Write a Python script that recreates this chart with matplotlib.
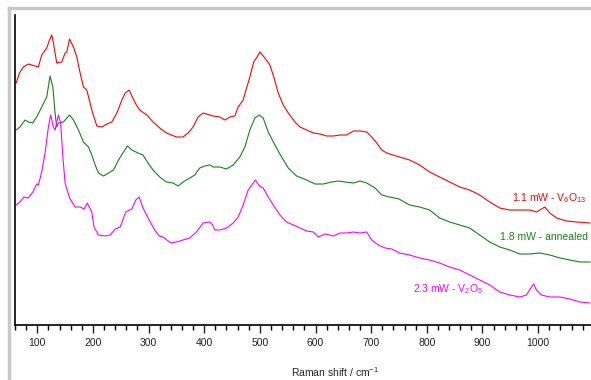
import matplotlib
matplotlib.use('Agg')
import matplotlib.pyplot as plt
from matplotlib.lines import Line2D
from matplotlib.ticker import MultipleLocator

plt.rcParams['font.family'] = ['Liberation Sans', 'DejaVu Sans']
plt.rcParams['mathtext.fontset'] = 'custom'
plt.rcParams['mathtext.rm'] = 'Liberation Sans'
plt.rcParams['mathtext.it'] = 'Liberation Sans:italic'

# Raman shift (cm-1) / intensity (arb. units, offset traces)
red_x = [62, 68, 75, 84, 90, 102, 108, 117, 122, 126, 129, 135, 144, 150, 153, 158,
         165, 171, 177, 183, 189, 198, 207, 216, 225, 234, 243, 252, 258, 265, 276,
         284, 297, 308, 320, 332, 341, 350, 362, 371, 380, 389, 398, 404, 416, 428,
         437, 446, 455, 461, 470, 475, 482, 489, 495, 500, 509, 518, 525, 533, 542,
         551, 563, 572, 584, 596, 608, 620, 632, 644, 656, 668, 680, 692, 701, 710,
         719, 728, 739, 751, 769, 787, 805, 823, 841, 859, 877, 895, 913, 931, 949,
         967, 985, 997, 1012, 1021, 1033, 1051, 1069, 1093]
red_y = [242, 252, 258, 261, 260, 258, 270, 277, 285, 290, 282, 262, 263, 272, 273, 286,
         278, 268, 252, 238, 235, 215, 199, 198, 201, 203, 212, 225, 232, 235, 222,
         215, 210, 203, 197, 192, 190, 188, 188, 192, 198, 208, 212, 211, 209, 208,
         205, 208, 209, 218, 225, 235, 248, 263, 268, 273, 267, 260, 248, 232, 220,
         212, 203, 198, 195, 192, 191, 189, 189, 190, 190, 194, 194, 193, 188, 182,
         175, 172, 170, 168, 165, 160, 153, 148, 143, 138, 135, 130, 123, 117, 115,
         115, 115, 113, 118, 112, 107, 104, 103, 102]

green_x = [62, 69, 78, 84, 92, 99, 108, 117, 123, 128, 132, 135, 138, 147, 158, 165,
           174, 183, 192, 198, 204, 210, 219, 228, 237, 246, 255, 262, 270, 281, 290,
           299, 308, 320, 332, 344, 353, 362, 374, 383, 392, 401, 410, 416, 428, 440,
           452, 464, 473, 482, 491, 499, 506, 515, 527, 539, 551, 566, 584, 599, 614,
           629, 641, 653, 668, 680, 692, 707, 719, 733, 750, 769, 787, 805, 823, 841,
           859, 877, 895, 913, 931, 949, 967, 985, 1003, 1021, 1039, 1057, 1075, 1093]
green_y = [195, 198, 205, 203, 202, 208, 218, 228, 249, 238, 212, 198, 202, 203, 210, 205,
           195, 183, 178, 170, 160, 152, 149, 152, 155, 165, 173, 179, 175, 172, 170,
           162, 155, 148, 143, 142, 139, 143, 147, 150, 157, 159, 160, 158, 158, 156,
           160, 168, 178, 195, 207, 210, 207, 193, 180, 168, 157, 149, 145, 141, 141,
           143, 144, 143, 142, 144, 142, 137, 130, 128, 126, 120, 118, 115, 107, 103,
           100, 97, 90, 83, 78, 75, 71, 71, 72, 70, 67, 65, 63, 63]

mag_x = [62, 69, 76, 84, 92, 99, 102, 108, 114, 120, 124, 129, 132, 136, 138, 142,
         146, 150, 158, 168, 177, 184, 190, 196, 198, 202, 210, 222, 231, 240, 249,
         259, 270, 277, 283, 290, 301, 311, 319, 326, 340, 350, 362, 374, 386, 398,
         410, 415, 419, 428, 440, 452, 461, 470, 479, 488, 492, 499, 506, 515, 524,
         536, 548, 560, 572, 584, 596, 605, 617, 632, 644, 656, 668, 680, 692, 701,
         713, 725, 737, 751, 769, 787, 805, 823, 841, 859, 877, 895, 913, 931, 949,
         967, 979, 988, 992, 997, 1006, 1021, 1039, 1057, 1075, 1093]
mag_y = [120, 123, 128, 127, 133, 141, 140, 153, 172, 198, 210, 198, 195, 205, 210, 202,
         168, 142, 127, 118, 118, 116, 122, 115, 113, 98, 90, 89, 90, 96, 98,
         113, 116, 125, 128, 117, 105, 95, 89, 88, 82, 83, 85, 87, 93, 102,
         103, 100, 95, 95, 97, 102, 108, 120, 135, 142, 145, 139, 137, 128, 120,
         110, 103, 100, 97, 94, 93, 88, 91, 89, 92, 92, 93, 92, 93, 85,
         80, 77, 76, 72, 70, 67, 65, 62, 58, 55, 50, 45, 40, 33, 30,
         28, 30, 38, 41, 35, 30, 28, 28, 26, 23, 22]

series = [
    (red_x, red_y, '#ff0000'),
    (green_x, green_y, '#17801a'),
    (mag_x, mag_y, '#ff00ff'),
]
labels = ['1.1 mW - V$\\mathregular{_6}$O$\\mathregular{_{13}}$',
          '1.8 mW - annealed',
          '2.3 mW - V$\\mathregular{_2}$O$\\mathregular{_5}$']
label_x = [953, 931, 775]
label_y = [127, 88, 36]

fig = plt.figure(figsize=(5.91, 3.80), dpi=100)
ax = fig.add_axes([15 / 591, 55 / 380, 576 / 591, 310 / 380])

for (xs, ys, c), lab, lx, ly in zip(series, labels, label_x, label_y):
    ax.plot(xs, ys, color=c, lw=0.8)
    ax.text(lx, ly, lab, color=c, fontsize=7.5, ha='left', va='center')

ax.set_xlim(60, 1095)
ax.set_ylim(0, 310)
ax.xaxis.set_major_locator(MultipleLocator(100))
ax.xaxis.set_minor_locator(MultipleLocator(20))
ax.tick_params(axis='x', which='major', direction='out', length=6, width=1,
               labelsize=7.5, pad=3, colors='#222222')
ax.tick_params(axis='x', which='minor', direction='out', length=3.5, width=1)
ax.set_yticks([])
for side in ['top', 'right']:
    ax.spines[side].set_visible(False)
ax.spines['left'].set_linewidth(1.2)
ax.spines['bottom'].set_linewidth(1.2)

ax.set_xlabel('Raman shift / cm$\\mathregular{^{-1}}$', fontsize=7.5, color='#222222')
ax.xaxis.set_label_coords((335 - 15) / 576, -0.13)

# light grey frame round the figure
fig.add_artist(Line2D([9 / 591, 9 / 591], [0, 1 - 8 / 380], color='#c8c8c8', lw=2.5,
                      transform=fig.transFigure))
fig.add_artist(Line2D([9 / 591, 1], [1 - 8 / 380, 1 - 8 / 380], color='#c8c8c8', lw=2.5,
                      transform=fig.transFigure))

fig.savefig('out.png', dpi=100)
